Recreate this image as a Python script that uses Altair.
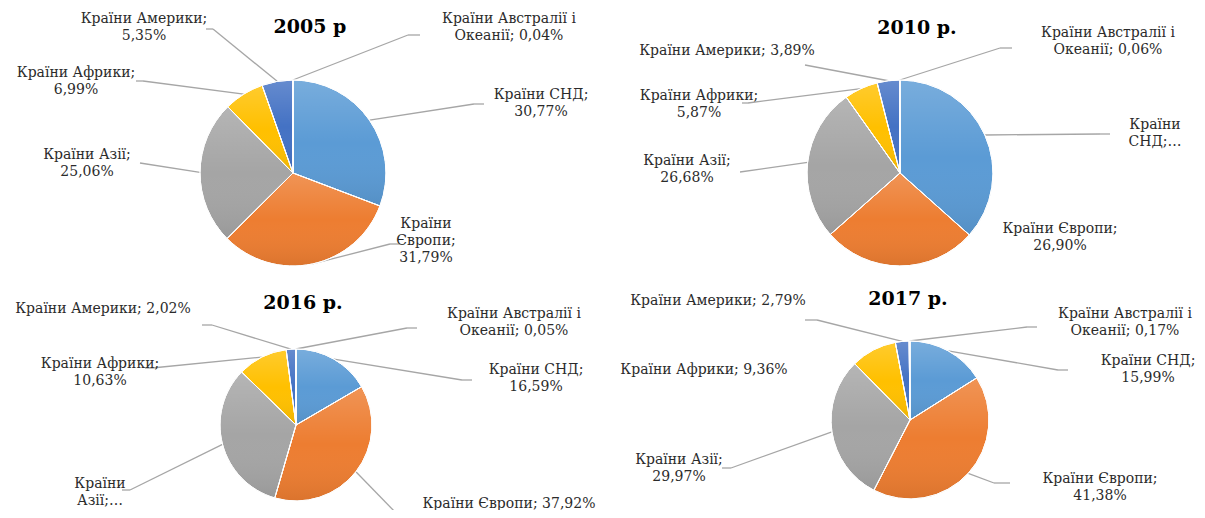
import altair as alt
import pandas as pd

# ---------------- data ----------------
CATEGORIES = ["Країни СНД", "Країни Європи", "Країни Азії", "Країни Африки",
              "Країни Америки", "Країни Австралії і Океанії"]
YEARS = ["2005", "2010", "2016", "2017"]
TITLES = ["2005 р", "2010 р.", "2016 р.", "2017 р."]
V2005 = [30.77, 31.79, 25.06, 6.99, 5.35, 0.04]
V2010 = [36.60, 26.90, 26.68, 5.87, 3.89, 0.06]
V2016 = [16.59, 37.92, 32.79, 10.63, 2.02, 0.05]
V2017 = [15.99, 41.38, 29.97, 9.36, 2.79, 0.17]
VALUES = {"2005": V2005, "2010": V2010, "2016": V2016, "2017": V2017}
COLORS = ["#5B9BD5", "#ED7D31", "#A5A5A5", "#FFC000", "#4472C4", "#70AD47"]

# ---------------- layout (pixel positions on the page) ----------------
PIES = {"2005": (293, 173, 93), "2010": (900, 173, 93),
        "2016": (296, 425, 76), "2017": (910, 420, 79)}
TITLE_POS = {"2005": (310, 27), "2010": (917, 28), "2016": (303, 303), "2017": (908, 299)}
# per category: (wrap style, label x, first-line y, leader elbow (ex, ey, stub end x) or None)
LABELS = {
    "2005": [("2", 541, 97, (474, 104, 484)), ("3", 426, 226, (390, 244, 400)),
             ("2", 87, 157, (140, 163, 140)), ("2", 76, 75, (143, 81, 136)),
             ("2", 144, 21, (213, 29, 206)), ("aus", 509, 21, (408, 35, 420))],
    "2010": [("trunc", 1155, 127, (1100, 134, 1110)), ("2", 1060, 231, None),
             ("2", 687, 163, (740, 172, 740)), ("2", 699, 98, (748, 103, 742)),
             ("1", 727, 53, (805, 65, 805)), ("aus", 1108, 35, (1000, 48, 1012))],
    "2016": [("2", 536, 372, (462, 380, 472)), ("1", 509, 506, (397, 514, 397)),
             ("trunc", 100, 486, (130, 490, 122)), ("2", 100, 366, (152, 368, 145)),
             ("1", 103, 311, (212, 325, 202)), ("aus", 514, 316, (407, 328, 417))],
    "2017": [("2", 1148, 363, (1058, 370, 1068)), ("2", 1100, 481, (994, 483, 1010)),
             ("2", 679, 462, (731, 468, 722)), ("1", 704, 372, None),
             ("1", 718, 303, (817, 320, 805)), ("aus", 1125, 316, (1027, 327, 1037))],
}


def fmt(v):
    return f"{v:.2f}".replace(".", ",") + "%"


def label_text(cat, v, style):
    words = cat.split(" ")
    if style == "1":
        return f"{cat}; {fmt(v)}"
    if style == "2":
        return f"{cat};\n{fmt(v)}"
    if style == "3":
        return f"{words[0]}\n{words[1]};\n{fmt(v)}"
    if style == "aus":
        return f"{' '.join(words[:3])}\n{words[3]}; {fmt(v)}"
    if style == "trunc":
        return f"{words[0]}\n{words[1]};…"
    return cat


rows = []
for y in YEARS:
    cx, cy, r = PIES[y]
    for i, (cat, v) in enumerate(zip(CATEGORIES, VALUES[y])):
        style, lx, ly, lead = LABELS[y][i]
        row = dict(year=y, cat=cat, val=v, ord=i, cx=cx, cy=cy, r=r,
                   lx=lx, ly=ly - 9, text=label_text(cat, v, style),
                   lead=lead is not None)
        if lead:
            row.update(ex=lead[0], ey=lead[1], fx=lead[2])
        else:
            row.update(ex=cx, ey=cy, fx=cx)
        rows.append(row)
df = pd.DataFrame(rows)

titles_df = pd.DataFrame([dict(title=t, tx=TITLE_POS[y][0], ty=TITLE_POS[y][1])
                          for y, t in zip(YEARS, TITLES)])

W, H = 1189, 502
xs = alt.Scale(domain=[8, 8 + W], range=[0, W], nice=False, zero=False)
ys = alt.Scale(domain=[8, 8 + H], range=[0, H], nice=False, zero=False)

base = alt.Chart(df).transform_joinaggregate(
    total="sum(val)", groupby=["year"]
).transform_window(
    cum="sum(val)", groupby=["year"], sort=[alt.SortField("ord")], frame=[None, 0]
).transform_calculate(
    t0="2*PI*(datum.cum - datum.val)/datum.total",
    t1="2*PI*datum.cum/datum.total",
).transform_calculate(
    mid="(datum.t0 + datum.t1)/2"
).transform_calculate(
    px="datum.cx + datum.r*sin(datum.mid)",
    py="datum.cy - datum.r*cos(datum.mid)",
)

arc_enc = dict(
    x=alt.X("cx:Q", scale=xs, axis=None),
    y=alt.Y("cy:Q", scale=ys, axis=None),
    theta=alt.Theta("t0:Q", scale=None, stack=None),
    theta2="t1:Q",
    radius=alt.Radius("r:Q", scale=None),
)

arcs = base.mark_arc(stroke="white", strokeWidth=1).encode(
    color=alt.Color("cat:N", scale=alt.Scale(domain=CATEGORIES, range=COLORS), legend=None),
    **arc_enc,
)

grad = alt.LinearGradient(
    gradient="linear", x1=0, y1=0, x2=0, y2=1,
    stops=[alt.GradientStop(offset=0, color="rgba(255,255,255,0.18)"),
           alt.GradientStop(offset=0.5, color="rgba(255,255,255,0)"),
           alt.GradientStop(offset=1, color="rgba(0,0,0,0.08)")],
)
shade = base.mark_arc(fill=grad, stroke="white", strokeWidth=1).encode(**arc_enc)

leads = base.transform_filter("datum.lead")
lead1 = leads.mark_rule(color="#A6A6A6", strokeWidth=1.3).encode(
    x=alt.X("px:Q", scale=xs, axis=None), y=alt.Y("py:Q", scale=ys, axis=None),
    x2="ex:Q", y2="ey:Q",
)
lead2 = leads.mark_rule(color="#A6A6A6", strokeWidth=1.3).encode(
    x=alt.X("ex:Q", scale=xs, axis=None), y=alt.Y("ey:Q", scale=ys, axis=None),
    x2="fx:Q", y2="ey:Q",
)

labels = alt.Chart(df).mark_text(
    font="DejaVu Serif", fontSize=14, color="#2b2b2b", align="center",
    baseline="top", lineBreak="\n", lineHeight=17,
).encode(
    x=alt.X("lx:Q", scale=xs, axis=None), y=alt.Y("ly:Q", scale=ys, axis=None),
    text="text:N",
)

titles = alt.Chart(titles_df).mark_text(
    font="DejaVu Serif", fontSize=19, fontWeight="bold", color="#000000",
    align="center", baseline="middle",
).encode(
    x=alt.X("tx:Q", scale=xs, axis=None), y=alt.Y("ty:Q", scale=ys, axis=None),
    text="title:N",
)

chart = alt.layer(lead1, lead2, arcs, shade, labels, titles).properties(
    width=W, height=H, padding=0, background="white",
    autosize=alt.AutoSizeParams(type="none"),
).configure_view(stroke=None)

chart.save("out.html", embed_options={"renderer": "svg", "actions": False})
